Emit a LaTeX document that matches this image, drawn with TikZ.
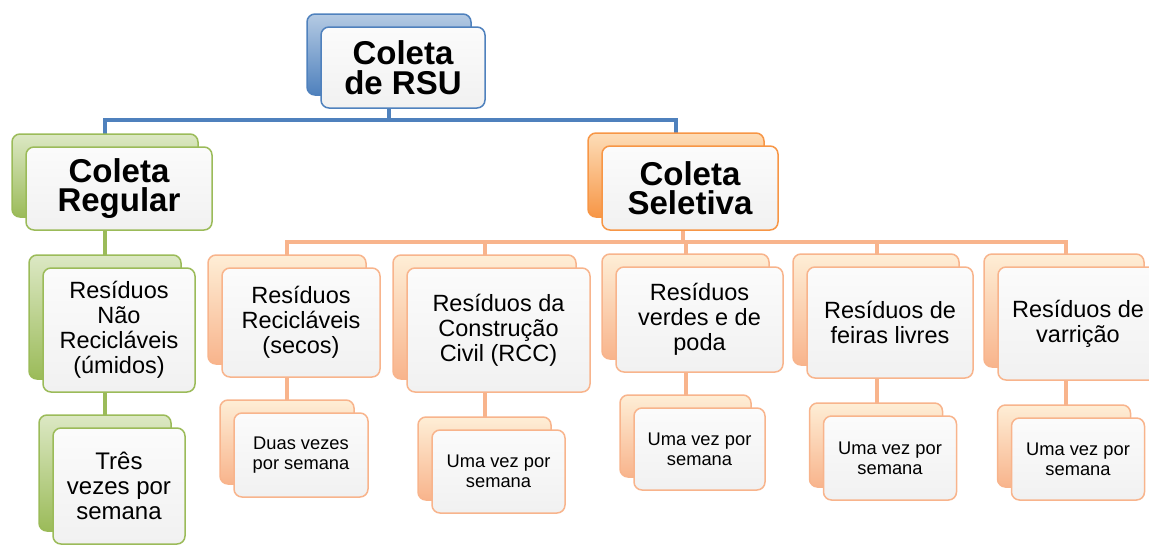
\documentclass[tikz,border=0pt]{standalone}
\usepackage{fontspec}
\setmainfont{Liberation Sans}
\usetikzlibrary{shadows,backgrounds}

\definecolor{rsublue}{HTML}{4F81BD}
\definecolor{rsubluetop}{HTML}{B4CAE3}
\definecolor{regreen}{HTML}{9BBB59}
\definecolor{regreentop}{HTML}{DCE8C4}
\definecolor{selorange}{HTML}{F79646}
\definecolor{selorangetop}{HTML}{FDDDB8}
\definecolor{peach}{HTML}{F8B48C}
\definecolor{peachtop}{HTML}{FEEED6}

\tikzset{
  box/.style 2 args={rounded corners=8pt, draw=#1, line width=1.5pt,
    top color=gray!3, bottom color=gray!11, align=center, inner sep=0pt,
    copy shadow={shadow xshift=-14pt, shadow yshift=13pt, opacity=1,
      draw=#1, top color=#2, bottom color=#1}},
  link/.style={line width=4pt, draw=#1},
  head/.style={font=\fontsize{33}{29.5}\selectfont\bfseries},
  mid/.style={font=\fontsize{23.5}{25}\selectfont},
  low/.style={font=\fontsize{18.3}{20}\selectfont}
}

\begin{document}
\begin{tikzpicture}[x=1pt,y=-1pt]
\clip (0,0) rectangle (1149,546);

\node (0)[box={rsublue}{rsubluetop}, head, minimum width=164pt, minimum height=81pt] at (403,67.5) {Coleta\\de RSU};

\node (1)[box={regreen}{regreentop}, head, minimum width=186pt, minimum height=83pt] at (119,188.5) {Coleta\\Regular};
\node (2)[box={selorange}{selorangetop}, head, minimum width=176pt, minimum height=84pt] at (690,188) {Coleta\\Seletiva};

\node (3)[box={regreen}{regreentop}, mid, minimum width=152pt, minimum height=124pt] at (119,330) {Resíduos\\Não\\Recicláveis\\(úmidos)};
\node (4)[box={regreen}{regreentop}, font=\fontsize{24}{25}\selectfont, minimum width=132pt, minimum height=116pt] at (119,486) {Três\\vezes por\\semana};

\node (5)[box={peach}{peachtop}, mid, minimum width=158pt, minimum height=109pt] at (301,322.5) {Resíduos\\Recicláveis\\(secos)};
\node (6)[box={peach}{peachtop}, mid, minimum width=183pt, minimum height=124pt] at (498.5,330) {Resíduos da\\Construção\\Civil (RCC)};
\node (7)[box={peach}{peachtop}, mid, minimum width=167pt, minimum height=105pt] at (699.5,319.5) {Resíduos\\verdes e de\\poda};
\node (8)[box={peach}{peachtop}, mid, minimum width=166pt, minimum height=111pt] at (890,322.5) {Resíduos de\\feiras livres};
\node (9)[box={peach}{peachtop}, mid, minimum width=160pt, minimum height=113pt] at (1078,323.5) {Resíduos de\\varrição};

\node (10)[box={peach}{peachtop}, low, minimum width=134pt, minimum height=84pt] at (301,455) {Duas vezes\\por semana};
\node (11)[box={peach}{peachtop}, low, minimum width=133pt, minimum height=83pt] at (498.5,471.5) {Uma vez por\\semana};
\node (12)[box={peach}{peachtop}, low, minimum width=131pt, minimum height=82pt] at (699.5,449) {Uma vez por\\semana};
\node (13)[box={peach}{peachtop}, low, minimum width=133pt, minimum height=84pt] at (890,458) {Uma vez por\\semana};
\node (14)[box={peach}{peachtop}, low, minimum width=133pt, minimum height=82pt] at (1078,459) {Uma vez por\\semana};

\begin{scope}[on background layer]
% blue level
\draw[link=rsublue] ([xshift=-14pt]0.south) -- ++(0,13);
\draw[link=rsublue] ([xshift=-14pt]1.north) -- ++(0,-26) -| ([xshift=-14pt]2.north);

% green branch
\draw[link=regreen] ([xshift=-14pt]1.south) -- ([xshift=-14pt]3.north);
\draw[link=regreen] ([xshift=-14pt]3.south) -- ([xshift=-14pt]4.north);

% orange branch
\draw[link=peach] ([xshift=-7pt]2.south) -- ++(0,13);
\draw[link=peach] ([xshift=-14pt]5.north) -- ++(0,-25) -| ([xshift=-12pt]9.north);
\draw[link=peach] ([xshift=-14pt]6.north) -- ++(0,-25);
\draw[link=peach] ([xshift=-14pt]7.north) -- ++(0,-24);
\draw[link=peach] ([xshift=-13pt]8.north) -- ++(0,-24);

\draw[link=peach] ([xshift=-14pt]5.south) -- ([xshift=-14pt]10.north);
\draw[link=peach] ([xshift=-14pt]6.south) -- ([xshift=-14pt]11.north);
\draw[link=peach] ([xshift=-14pt]7.south) -- ([xshift=-14pt]12.north);
\draw[link=peach] ([xshift=-13pt]8.south) -- ([xshift=-13pt]13.north);
\draw[link=peach] ([xshift=-12pt]9.south) -- ([xshift=-12pt]14.north);
\end{scope}
\end{tikzpicture}
\end{document}
